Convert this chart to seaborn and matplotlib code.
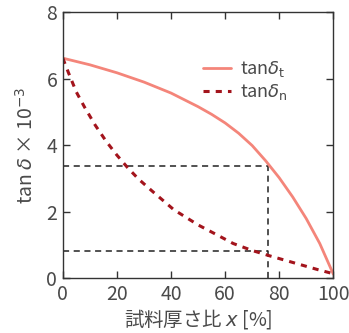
import matplotlib
matplotlib.use("Agg")
import matplotlib.pyplot as plt
import seaborn as sns
import pandas as pd

# thickness ratio x [%] vs tan delta (x 10^-3)
x_t = [0, 10, 20, 30, 40, 50, 55, 60, 65, 70, 75, 80, 85, 90, 95, 100]
tan_t = [6.62, 6.42, 6.18, 5.90, 5.57, 5.16, 4.93, 4.67, 4.36, 3.99, 3.53, 3.02,
         2.44, 1.79, 1.04, 0.12]

x_n = [0, 2, 5, 8, 12, 16, 20, 24, 28, 33, 41, 50, 57, 63, 70, 76, 82, 88, 94, 100]
tan_n = [6.62, 6.20, 5.60, 5.15, 4.60, 4.12, 3.70, 3.32, 2.98, 2.62, 2.06, 1.60,
         1.30, 1.04, 0.83, 0.68, 0.54, 0.40, 0.26, 0.13]

x_mark = 76
y_mark_t = 3.37
y_mark_n = 0.82

df_t = pd.DataFrame({"x": x_t, "tan": tan_t})
df_n = pd.DataFrame({"x": x_n, "tan": tan_n})

sns.set_style("ticks")
plt.rcParams["font.family"] = ["Noto Sans CJK JP", "DejaVu Sans"]
plt.rcParams["mathtext.fontset"] = "dejavusans"

fig, ax = plt.subplots(figsize=(3.49, 3.33), dpi=100)
fig.subplots_adjust(left=0.18, right=0.955, top=0.963, bottom=0.165)

# guide lines
guide = dict(ls=(0, (4, 3)), color="#222222", lw=1.1)
ax.plot([0, x_mark], [y_mark_t, y_mark_t], **guide)
ax.plot([x_mark, x_mark], [0, y_mark_t], **guide)
ax.plot([0, x_mark], [y_mark_n, y_mark_n], **guide)

sns.lineplot(data=df_t, x="x", y="tan", ax=ax, color="#f4857a", lw=2,
             label=r"tan$\delta_\mathrm{t}$")
sns.lineplot(data=df_n, x="x", y="tan", ax=ax, color="#a3141c", lw=2.2,
             ls=(0, (2, 2)), label=r"tan$\delta_\mathrm{n}$")

ax.set_xlim(0, 100)
ax.set_ylim(0, 8)
ax.set_xticks([0, 20, 40, 60, 80, 100])
ax.set_yticks([0, 2, 4, 6, 8])
ax.tick_params(direction="in", length=5, width=1, top=True, right=True,
               labelsize=14, labelcolor="#4a4a4a", color="#333333", pad=4)
for s in ax.spines.values():
    s.set_color("#333333")
    s.set_linewidth(1)

ax.set_xlabel(r"試料厚さ比 $x$ [%]", fontsize=14, color="#4a4a4a", labelpad=2)
ax.set_ylabel(r"tan $\delta$ × 10$^{-3}$", fontsize=14, color="#4a4a4a", labelpad=6)

leg = ax.legend(loc="upper left", bbox_to_anchor=(0.49, 0.85), frameon=False,
                fontsize=13, handlelength=1.6, handletextpad=0.5,
                labelspacing=0.15, borderaxespad=0.0)
for t in leg.get_texts():
    t.set_color("#4a4a4a")

fig.savefig("out.png", dpi=100)
